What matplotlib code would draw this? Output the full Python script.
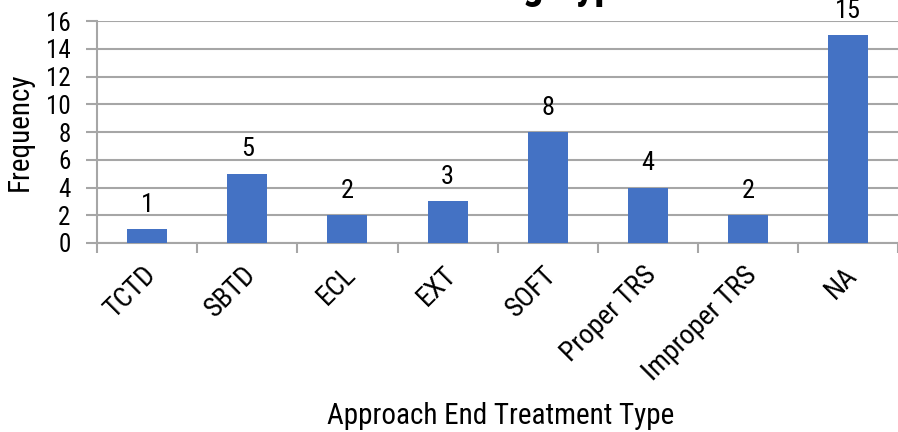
import matplotlib
matplotlib.use("Agg")
import matplotlib.pyplot as plt
from matplotlib.transforms import ScaledTranslation
import numpy as np

plt.rcParams['font.family'] = ['Roboto Condensed', 'DejaVu Sans']

categories = ["TCTD", "SBTD", "ECL", "EXT", "SOFT", "Proper TRS", "Improper TRS", "NA"]
frequency = [1, 5, 2, 3, 8, 4, 2, 15]
y_ticks = [0, 2, 4, 6, 8, 10, 12, 14, 16]

bar_color = "#4472C4"
grid_color = "#a6a6a6"

fig = plt.figure(figsize=(8.98, 4.32), dpi=100)
ax = fig.add_axes([0.108, 0.4375, 0.898, 0.5135])

x = np.arange(len(categories))
ax.bar(x, frequency, width=0.4, color=bar_color, zorder=3)

ax.set_xlim(-0.5, len(categories) - 0.45)
ax.set_ylim(0, 16)
ax.set_yticks(y_ticks)
ax.set_yticklabels([str(t) for t in y_ticks], fontsize=18)
ax.yaxis.grid(True, color=grid_color, linewidth=1.5, zorder=0)

# category ticks sit at the boundaries between bars
ax.set_xticks(np.arange(len(categories) + 1) - 0.5, minor=False)
ax.set_xticklabels([])
ax.set_xticks(x, minor=True)
ax.set_xticklabels(categories, minor=True, rotation=45, ha="right",
                   rotation_mode="anchor", fontsize=20)
ax.tick_params(axis="x", which="minor", length=0, pad=11)
ax.tick_params(axis="x", which="major", length=7, color=grid_color, width=1.5)
ax.tick_params(axis="y", length=8, color=grid_color, width=1.5, pad=11)

# nudge the slanted category names left so they end just past each bar centre
shift = ScaledTranslation(-5 / 100, -3 / 100, fig.dpi_scale_trans)
for lab in ax.get_xticklabels(minor=True):
    lab.set_transform(lab.get_transform() + shift)

for side in ("top", "right"):
    ax.spines[side].set_visible(False)
ax.spines["left"].set_color(grid_color)
ax.spines["left"].set_linewidth(1.5)
ax.spines["bottom"].set_color(grid_color)
ax.spines["bottom"].set_linewidth(1.5)

for xi, v in zip(x, frequency):
    ax.annotate(str(v), (xi, v), xytext=(0, 9), textcoords="offset points",
                ha="center", va="bottom", fontsize=19)

ax.set_ylabel("Frequency", fontsize=21)
ax.yaxis.set_label_coords(-0.079, 0.5)
ax.set_xlabel("Approach End Treatment Type", fontsize=21, labelpad=12)

fig.text(0.707, 1.005, "Existing Type", ha="right", va="baseline",
         fontsize=30, fontweight="bold")

fig.savefig("out.png", dpi=100)
